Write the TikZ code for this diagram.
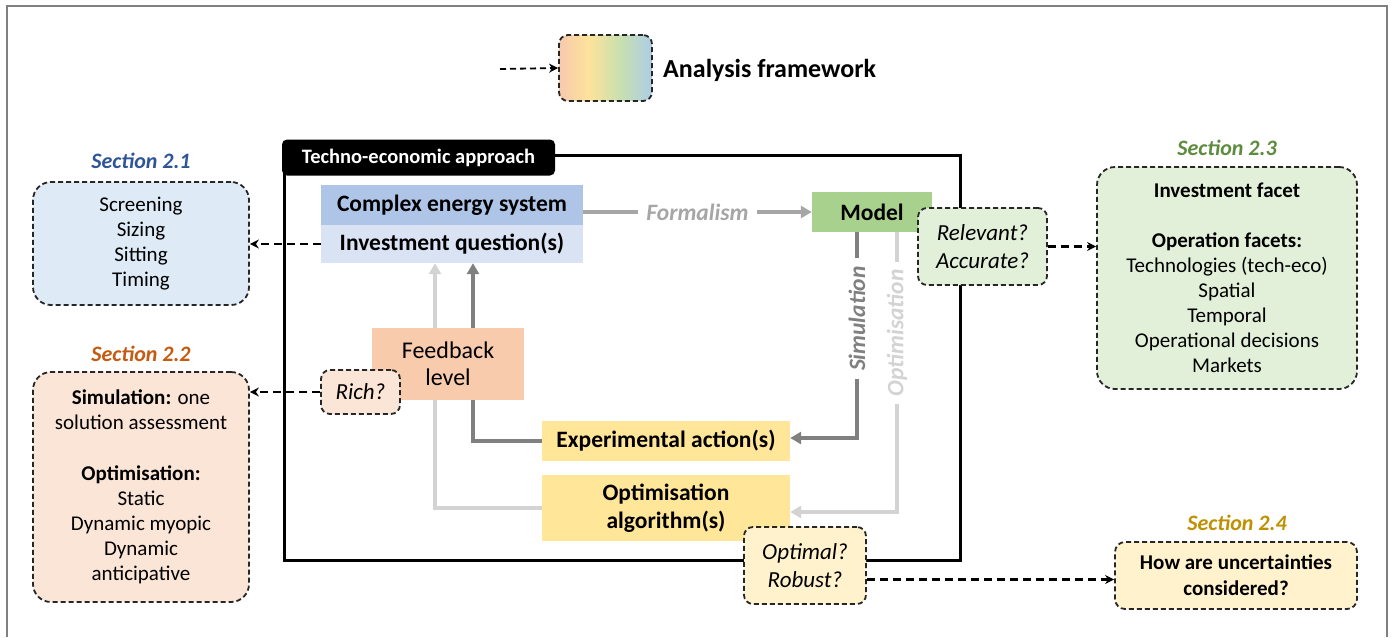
\documentclass[tikz,border=0pt]{standalone}
\usepackage{fontspec}
\setmainfont{Carlito}
\usetikzlibrary{arrows.meta}
\definecolor{cesblue}{HTML}{AEC5E8}
\definecolor{iqblue}{HTML}{DAE3F3}
\definecolor{secblue}{HTML}{DEEBF7}
\definecolor{modgreen}{HTML}{A9D18E}
\definecolor{lgreen}{HTML}{E2F0D9}
\definecolor{salmon}{HTML}{F8CBAD}
\definecolor{lsalmon}{HTML}{FBE5D6}
\definecolor{yel}{HTML}{FFE699}
\definecolor{lyel}{HTML}{FFF2CC}
\definecolor{t21}{HTML}{2F5597}
\definecolor{t22}{HTML}{C55A11}
\definecolor{t23}{HTML}{5E8C3E}
\definecolor{t24}{HTML}{BF9000}
\definecolor{gdark}{HTML}{808080}
\definecolor{gmid}{HTML}{A6A6A6}
\definecolor{glight}{HTML}{D3D3D3}
\definecolor{gr1}{HTML}{F8C9AE}
\definecolor{gr2}{HTML}{FDE39B}
\definecolor{gr3}{HTML}{C8E0B0}
\definecolor{gr4}{HTML}{ADCDE6}
\pgfdeclarehorizontalshading{legendgrad}{100bp}{color(0bp)=(gr1); color(25bp)=(gr1); color(41bp)=(gr2); color(58bp)=(gr3); color(75bp)=(gr4); color(100bp)=(gr4)}
\pgfdeclarelayer{bg}
\pgfsetlayers{bg,main}
\begin{document}
\begin{tikzpicture}[x=1pt,y=-1pt,
  every node/.style={inner sep=0pt, align=center},
  qbox/.style={draw=black!85, dash pattern=on 5pt off 3pt, line width=1.8pt, rounded corners=9pt, font=\fontsize{23}{28}\selectfont\itshape},
  secbox/.style={draw=black!85, dash pattern=on 5pt off 3pt, line width=1.8pt, rounded corners=18pt, font=\fontsize{21}{25}\selectfont},
  sectitle/.style={font=\fontsize{22}{26}\selectfont\bfseries\itshape},
  dasharrow/.style={draw=black, line width=2.2pt, dash pattern=on 8pt off 5pt, -{Stealth[length=9pt,width=9pt]}},
  glink/.style={line width=3.5pt, -{Triangle[length=11pt,width=12pt]}},
  linklabel/.style={fill=white, font=\fontsize{23.5}{27}\selectfont\bfseries\itshape}
]
\useasboundingbox (0,0) rectangle (1394,637);
% outer frame
\draw[gdark, line width=2pt] (7,637) -- (7,6) -- (1387,6) -- (1387,637);

% legend
\coordinate (legstart) at (500,69);
\node[draw=black!85, dash pattern=on 5pt off 3pt, line width=1.8pt, rounded corners=9pt, shading=legendgrad, minimum width=93pt, minimum height=66pt] (leg) at (605.5,68) {};
\node[anchor=west, font=\fontsize{26}{30}\selectfont\bfseries] (legtext) at (663,70) {Analysis framework};
\draw[dasharrow, line width=1.8pt, dash pattern=on 6pt off 4pt] (legstart) -- (leg.west);

% techno-economic frame
\draw[line width=3pt] (284,155) rectangle (960,560);
\node[fill=black, rounded corners=5pt, minimum width=273pt, minimum height=36pt, text=white, font=\fontsize{20.5}{24}\selectfont\bfseries] (tab) at (418.5,157.5) {Techno-economic approach};

% main boxes
\node[fill=cesblue, minimum width=262pt, minimum height=40pt, font=\fontsize{23.5}{27}\selectfont\bfseries] (ces) at (452,205) {Complex energy system};
\node[fill=iqblue, minimum width=262pt, minimum height=38pt, font=\fontsize{23.5}{27}\selectfont\bfseries] (iq) at (452,244) {Investment question(s)};
\node[fill=modgreen, minimum width=120pt, minimum height=40pt, font=\fontsize{23.5}{27}\selectfont\bfseries] (model) at (872,212) {Model};
\node[fill=salmon, minimum width=152pt, minimum height=72pt, font=\fontsize{24}{27}\selectfont] (fb) at (448,364) {Feedback\\level};
\node[fill=yel, minimum width=248pt, minimum height=40pt, font=\fontsize{23.5}{27}\selectfont\bfseries] (exp) at (666,441) {Experimental action(s)};
\node[fill=yel, minimum width=248pt, minimum height=66pt, font=\fontsize{23.5}{28}\selectfont\bfseries] (opt) at (666,508) {Optimisation\\algorithm(s)};

% question boxes
\node[qbox, fill=lgreen, minimum width=129pt, minimum height=77pt] (relv) at (982.5,246.5) {Relevant?\\Accurate?};
\node[qbox, fill=lsalmon, minimum width=79pt, minimum height=44pt] (rich) at (360.5,392) {Rich?};
\node[qbox, fill=lyel, minimum width=122pt, minimum height=77pt] (optq) at (805,565.5) {Optimal?\\Robust?};

% section boxes
\node[sectitle, text=t21] (t21) at (141,161) {Section 2.1};
\node[secbox, fill=secblue, minimum width=216pt, minimum height=123pt] (s21) at (141,243.5) {Screening\\Sizing\\Sitting\\Timing};
\node[sectitle, text=t22] (t22) at (141,354) {Section 2.2};
\node[secbox, fill=lsalmon, minimum width=216pt, minimum height=230pt] (s22) at (141,487) {\textbf{Simulation:} one\\solution assessment\\[26pt]\textbf{Optimisation:}\\Static\\Dynamic myopic\\Dynamic\\anticipative};
\node[sectitle, text=t23] (t23) at (1227,148) {Section 2.3};
\node[secbox, fill=lgreen, minimum width=260pt, minimum height=222pt] (s23) at (1227,278) {\textbf{Investment facet}\\[25pt]\textbf{Operation facets:}\\Technologies (tech-eco)\\Spatial\\Temporal\\Operational decisions\\Markets};
\node[sectitle, text=t24] (t24) at (1237,523) {Section 2.4};
\node[secbox, fill=lyel, rounded corners=10pt, minimum width=242pt, minimum height=67pt, font=\fontsize{21}{26}\selectfont\bfseries] (s24) at (1236,575.5) {How are uncertainties\\considered?};

% dashed arrows to sections
\coordinate (optqout) at ([yshift=-14pt]optq.east);
\draw[dasharrow] (iq.west) -- (s21.east |- iq.west);
\draw[dasharrow] (rich.west) -- (s22.east |- rich.west);
\draw[dasharrow] (relv.east) -- (s23.west |- relv.east);
\draw[dasharrow] (optqout) -- (s24.west |- optqout);

% gray connectors (behind boxes)
\begin{pgfonlayer}{bg}
\coordinate (simc) at (857,438);
\coordinate (optc) at (897,512);
\coordinate (fbd) at (473,441);
\coordinate (fbl) at (435,508);
\draw[glink, gmid] (ces.east |- model.west) -- node[linklabel, text=gmid, inner xsep=8pt] {Formalism} (model.west);
\draw[glink, gdark] (model.south -| simc) -- node[pos=0.42, linklabel, text=gdark, rotate=90, inner xsep=8pt] {Simulation} (simc) -- (exp.east |- simc);
\draw[glink, glight] (model.south -| optc) -- node[pos=0.36, linklabel, text=glight, rotate=90, inner xsep=8pt] {Optimisation} (optc) -- (opt.east |- optc);
\draw[glink, gdark] (exp.west |- fbd) -- (fbd) -- (iq.south -| fbd);
\draw[glink, glight] (opt.west |- fbl) -- (fbl) -- (iq.south -| fbl);
\end{pgfonlayer}
\end{tikzpicture}
\end{document}
